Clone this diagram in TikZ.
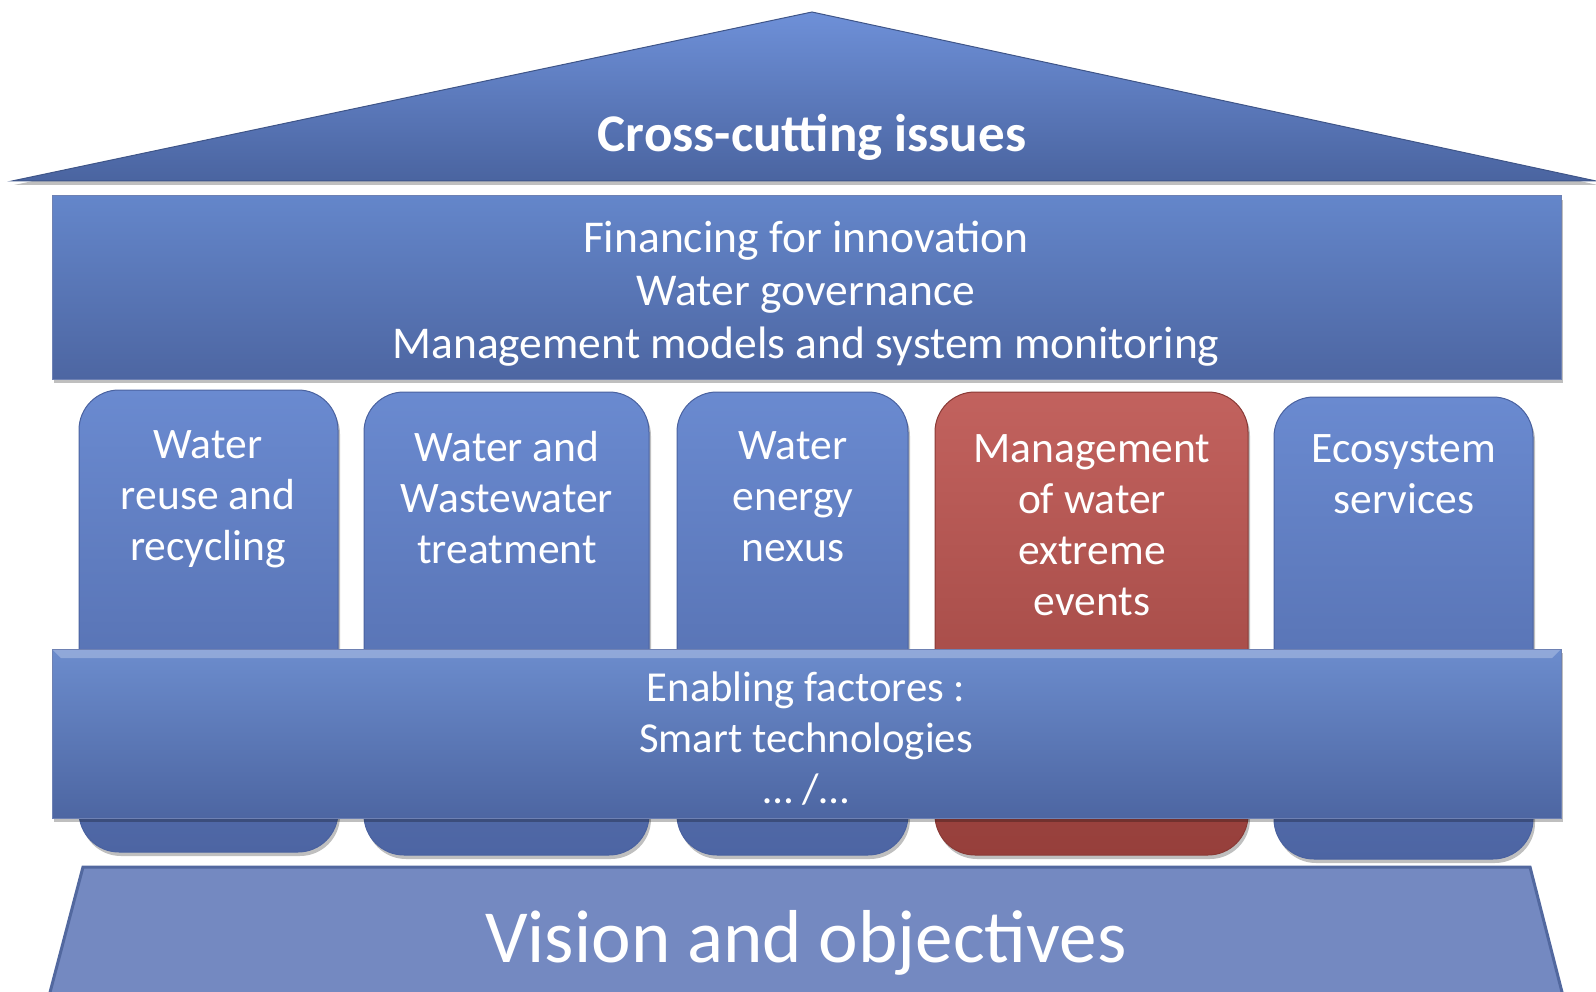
\documentclass[tikz,border=0pt]{standalone}
\usepackage{fontspec}
\setmainfont{Carlito}
\usetikzlibrary{shadows}
\definecolor{roofTop}{HTML}{6E90D8}
\definecolor{roofBot}{HTML}{4A64A0}
\definecolor{beamTop}{HTML}{6486CA}
\definecolor{beamBot}{HTML}{4D66A2}
\definecolor{pilTop}{HTML}{6A8AD0}
\definecolor{pilBot}{HTML}{4D65A3}
\definecolor{redTop}{HTML}{C2625E}
\definecolor{redBot}{HTML}{963F3B}
\definecolor{edgeBlue}{HTML}{4A62A0}
\definecolor{edgeRed}{HTML}{8A3A36}
\definecolor{baseFill}{HTML}{7489C1}
\definecolor{baseEdge}{HTML}{52689F}
\tikzset{
  shadowed/.style={drop shadow={shadow xshift=2pt,shadow yshift=-4pt,opacity=0.25,fill=black}},
  pillar/.style={rounded corners=40pt,top color=pilTop,bottom color=pilBot,draw=edgeBlue,line width=1pt,shadowed},
  redpillar/.style={rounded corners=40pt,top color=redTop,bottom color=redBot,draw=edgeRed,line width=1pt,shadowed},
  beam/.style={top color=beamTop,bottom color=beamBot,draw=edgeBlue!80,line width=1pt,shadowed},
  wtext/.style={text=white,align=center,inner sep=0pt},
  pilltext/.style={wtext,font=\fontsize{43.5}{51}\selectfont},
}
\begin{document}
\begin{tikzpicture}[x=1pt,y=-1pt]
\useasboundingbox (0,0) rectangle (1596,992);
% roof
\path[top color=roofTop,bottom color=roofBot,draw=roofBot!85!black,line width=1pt,shadowed]
  (12,181) -- (812,12) -- (1596,181) -- cycle;
\node[wtext,font=\fontsize{53}{60}\bfseries\selectfont] (roof) at (812,137) {Cross-cutting issues};
% top beam
\path[beam] (52,196) rectangle (1561,379);
\node[wtext,font=\fontsize{45.5}{53}\selectfont] (top) at (806,294) {Financing for innovation\\Water governance\\Management models and system monitoring};
% pillars
\path[pillar] (79,390) rectangle (338,852);
\path[pillar] (364,392) rectangle (649,855);
\path[pillar] (677,392) rectangle (908,855);
\path[redpillar] (935,392) rectangle (1248,855);
\path[pillar] (1274,397) rectangle (1533,859);
\node[pilltext] (p1) at (208,499) {Water\\reuse and\\recycling};
\node[pilltext] (p2) at (507,498) {Water and\\Wastewater\\treatment};
\node[pilltext] (p3) at (793,497) {Water\\energy\\nexus};
\node[pilltext] (p4) at (1092,525) {Management\\of water\\extreme\\events};
\node[pilltext] (p5) at (1404,474) {Ecosystem\\services};
% bottom beam
\path[top color=beamTop!95!white,bottom color=beamBot,draw=edgeBlue!80,line width=1pt,shadowed] (52,649) rectangle (1561,818);
\fill[beamTop!55!white,opacity=0.6] (53,650) -- (1560,650) -- (1552,658) -- (61,658) -- cycle;
\node[wtext,font=\fontsize{42.7}{51}\selectfont] (enab) at (806,739) {Enabling factores :\\Smart technologies\\… /…};
% base
\path[fill=baseFill,draw=baseEdge,line width=3pt] (83,867) -- (1530,867) -- (1564,1000) -- (48,1000) -- cycle;
\node[wtext,font=\fontsize{75}{80}\selectfont] (vision) at (806,943) {Vision and objectives};
\end{tikzpicture}
\end{document}
